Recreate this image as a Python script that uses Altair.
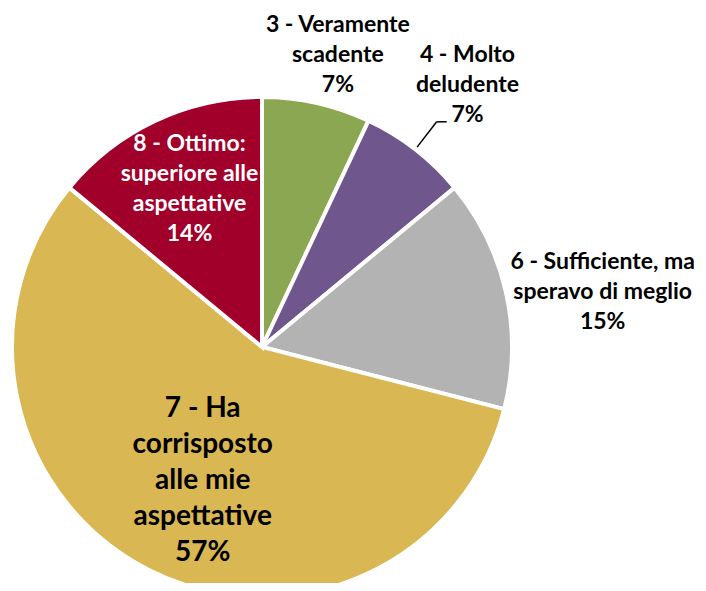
import math
import altair as alt
import pandas as pd

# data
categories = ["3 - Veramente\nscadente", "4 - Molto\ndeludente", "6 - Sufficiente, ma\nsperavo di meglio",
              "7 - Ha\ncorrisposto\nalle mie\naspettative", "8 - Ottimo:\nsuperiore alle\naspettative"]
values = [7, 7, 15, 57, 14]
colors = ["#8CA752", "#6F568C", "#B3B3B3", "#D9B753", "#A1002B"]

df = pd.DataFrame({
    "cat": categories,
    "value": values,
    "order": list(range(len(values))),
    "label": [f"{c}\n{v}%" for c, v in zip(categories, values)],
})

CX, CY, R = 254, 339, 250
FONT = "Lato"

base = alt.Chart(df).encode(
    theta=alt.Theta("value:Q", stack=True),
    order=alt.Order("order:Q"),
)

pie = base.mark_arc(radius=R, stroke="white", strokeWidth=4).encode(
    x=alt.value(CX), y=alt.value(CY),
    color=alt.Color("cat:N", scale=alt.Scale(domain=categories, range=colors), legend=None),
)

# per-label styling (radius, offsets, font size, line height, colour)
styles = [
    dict(radius=302, dx=10, dy=3, size=23, lh=30, color="black"),
    dict(radius=332, dx=2, dy=0, size=23, lh=30, color="black"),
    dict(radius=345, dx=4, dy=20, size=23, lh=30, color="black"),
    dict(radius=146, dx=7, dy=4, size=28, lh=36, color="black"),
    dict(radius=175, dx=2, dy=0, size=23, lh=30, color="white"),
]

layers = [pie]
for i, st in enumerate(styles):
    n_lines = df["label"][i].count("\n") + 1
    t = base.transform_calculate(
        lbl=f"datum.order == {i} ? datum.label : ''"
    ).mark_text(
        radius=st["radius"], dx=st["dx"], dy=st["dy"] - (n_lines - 1) * st["lh"] / 2,
        fontSize=st["size"], lineHeight=st["lh"], font=FONT, fontWeight="bold",
        color=st["color"], lineBreak="\n", align="center", baseline="middle",
    ).encode(x=alt.value(CX), y=alt.value(CY), text="lbl:N")
    layers.append(t)

# leader line for label 4
total = sum(values)
mid = (sum(values[:1]) + values[1] / 2) / total * 2 * math.pi
x1, y1 = CX + 253 * math.sin(mid), CY - 253 * math.cos(mid)
x2, y2 = CX + 285 * math.sin(mid), CY - 285 * math.cos(mid)
lead1 = alt.Chart(df.head(1)).mark_rule(color="black", strokeWidth=1.5).encode(
    x=alt.value(x1), y=alt.value(y1), x2=alt.value(x2), y2=alt.value(y2))
lead2 = alt.Chart(df.head(1)).mark_rule(color="black", strokeWidth=1.5).encode(
    x=alt.value(x2), y=alt.value(y2), x2=alt.value(x2 + 10), y2=alt.value(y2))
layers += [lead1, lead2]

chart = alt.layer(*layers).properties(
    width=690, height=575, autosize=alt.AutoSizeParams(type="none"), padding=0,
    background="white",
).configure_view(strokeWidth=0, stroke="transparent")

chart.save("out.html", embed_options={"renderer": "svg", "actions": False})
